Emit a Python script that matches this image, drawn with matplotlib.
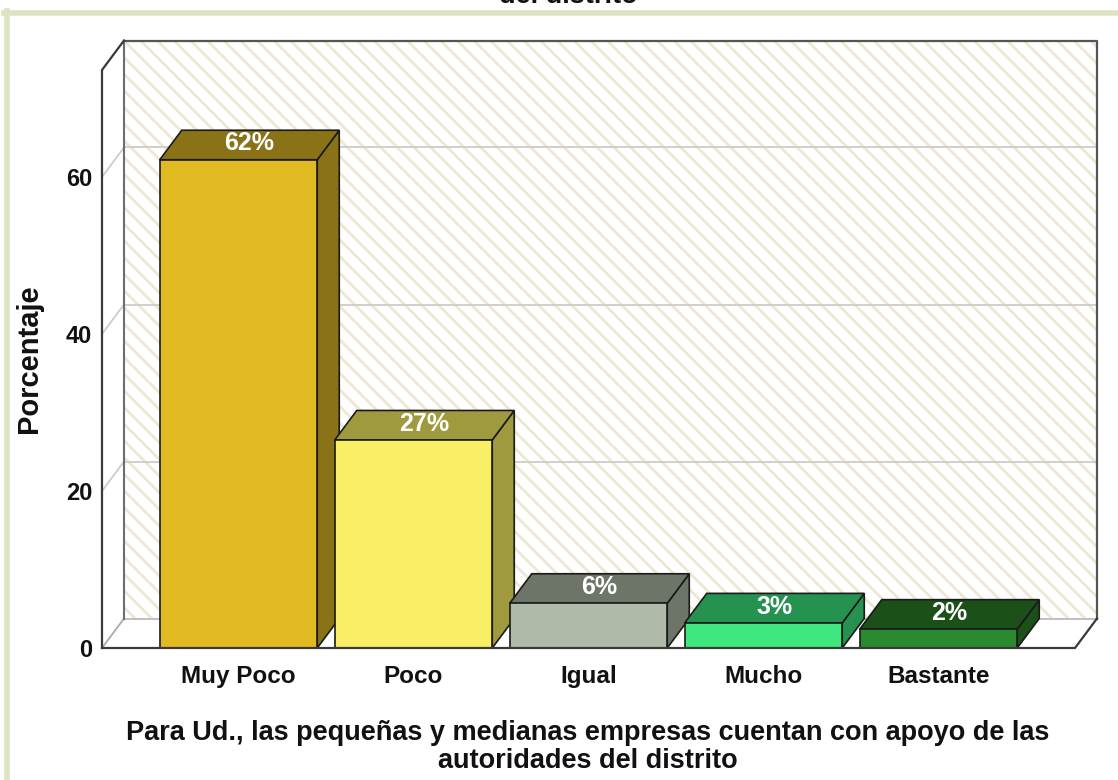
import matplotlib
matplotlib.use("Agg")
import matplotlib.pyplot as plt
from matplotlib.patches import Polygon
from matplotlib.lines import Line2D

plt.rcParams['font.family'] = ['Liberation Sans', 'DejaVu Sans']
plt.rcParams['hatch.linewidth'] = 2.0

# ---- data ----
categories = ["Muy Poco", "Poco", "Igual", "Mucho", "Bastante"]
values = [62.2, 26.5, 5.7, 3.2, 2.4]
value_labels = ["62%", "27%", "6%", "3%", "2%"]
front_colors = ["#E1BA21", "#F8EF67", "#B0BAA8", "#3EE87E", "#2A8A2E"]
dark_colors = ["#8A7316", "#A09A3E", "#6C7567", "#259250", "#1B5119"]
yticks = [0, 20, 40, 60]
ylabel = "Porcentaje"
xlabel = "Para Ud., las pequeñas y medianas empresas cuentan con apoyo de las\nautoridades del distrito"
title_tail = "del distrito"

W, H = 1118, 780
fig = plt.figure(figsize=(W / 100, H / 100), dpi=100)
fig.patch.set_facecolor("white")

# axes geometry (pixel based)
px_left, px_right, px_bottom, px_top = 102, 1100, 648, 38
cat_px = 175.0
unit_px = 7.85
xmin = -136.5 / cat_px
xmax_front = xmin + (1075 - 102) / cat_px
xmax_ax = xmin + (px_right - px_left) / cat_px
ymax_ax = (px_bottom - px_top) / unit_px
ddx = 22.0 / cat_px
ddy = 29.5 / unit_px
ytop_front = (648 - 70) / unit_px
ytop_back = ytop_front + ddy

ax = fig.add_axes([px_left / W, 1 - px_bottom / H, (px_right - px_left) / W, (px_bottom - px_top) / H])
ax.set_xlim(xmin, xmax_ax)
ax.set_ylim(0, ymax_ax)
for s in ax.spines.values():
    s.set_visible(False)
ax.patch.set_alpha(0)

# back wall with hatch
bx0, bx1 = xmin + ddx, xmax_front + ddx
wall = Polygon([(bx0, ddy), (bx1, ddy), (bx1, ytop_back), (bx0, ytop_back)],
               closed=True, facecolor="white", edgecolor="#EEE7D3", hatch="\\\\", lw=0, zorder=1)
ax.add_patch(wall)
# side wall (white)
side = Polygon([(xmin, 0), (bx0, ddy), (bx0, ytop_back), (xmin, ytop_front)], closed=True,
               facecolor="white", edgecolor="none", zorder=1)
ax.add_patch(side)
# gridlines
for g in yticks[1:]:
    ax.plot([bx0, bx1], [g + ddy, g + ddy], color="#CCCCCC", lw=1.3, zorder=2, solid_capstyle="butt")
    ax.plot([xmin, bx0], [g, g + ddy], color="#CCCCCC", lw=1.3, zorder=2)
# floor
floor = Polygon([(xmin, 0), (xmax_front, 0), (bx1, ddy), (bx0, ddy)], closed=True,
                facecolor="white", edgecolor="none", zorder=2)
ax.add_patch(floor)
ax.plot([bx0, bx1], [ddy, ddy], color="#BBBBBB", lw=1.3, zorder=2)
ax.plot([xmin, bx0], [0, ddy], color="#AAAAAA", lw=1.3, zorder=2)
# wall frame
ax.plot([bx0, bx0], [ddy, ytop_back], color="#6E6E6E", lw=1.5, zorder=2)
ax.plot([bx0, bx1, bx1], [ytop_back, ytop_back, ddy], color="#555555", lw=1.6, zorder=2)
ax.plot([xmin, xmin, bx0], [0, ytop_front, ytop_back], color="#3A3A3A", lw=1.6, zorder=6, clip_on=False)
ax.plot([xmin, xmax_front, bx1], [0, 0, ddy], color="#3A3A3A", lw=1.6, zorder=6, clip_on=False)

# bars
bw = 0.9
for i, (v, fc, dc, lab) in enumerate(zip(values, front_colors, dark_colors, value_labels)):
    z = 3 + i * 0.1
    xl, xr = i - bw / 2, i + bw / 2
    sidep = Polygon([(xr, 0), (xr + ddx, ddy), (xr + ddx, v + ddy), (xr, v)], closed=True,
                    facecolor=dc, edgecolor="#1A1A1A", lw=1.2, zorder=z, joinstyle="miter")
    ax.add_patch(sidep)
    topp = Polygon([(xl, v), (xr, v), (xr + ddx, v + ddy), (xl + ddx, v + ddy)], closed=True,
                   facecolor=dc, edgecolor="#1A1A1A", lw=1.2, zorder=z, joinstyle="miter")
    ax.add_patch(topp)
    ax.bar(i, v, width=bw, bottom=0, color=fc, edgecolor="#1A1A1A", lw=1.2, zorder=z + 0.01)
    ax.text(i + ddx / 2, v + ddy / 2 + 0.2, lab, color="white", fontsize=18, fontweight="bold",
            ha="center", va="center", zorder=z + 0.02)

# ticks
ax.set_yticks(yticks)
ax.set_yticklabels([str(t) for t in yticks], fontsize=17, fontweight="bold", color="#111111")
ax.set_xticks(range(len(categories)))
ax.set_xticklabels(categories, fontsize=17.5, fontweight="bold", color="#111111")
ax.tick_params(axis="y", length=0, pad=7)
ax.tick_params(axis="x", length=0, pad=12)

# axis titles
fig.text(29 / W, 1 - 359 / H, ylabel, rotation=90, fontsize=21, fontweight="bold",
         ha="center", va="center", color="#111111")
fig.text(588 / W, 1 - 747 / H, xlabel, fontsize=19.5, fontweight="bold", ha="center", va="center",
         multialignment="center", linespacing=1.07, color="#111111")
fig.text(568 / W, 1 - 3 / H, title_tail, fontsize=19.5, fontweight="bold", ha="center", va="baseline",
         color="#111111")

# light green frame
fig.add_artist(Line2D([4 / W, 1.0], [1 - 13 / H, 1 - 13 / H], color="#DAE4C2", lw=4.0, transform=fig.transFigure))
fig.add_artist(Line2D([7 / W, 7 / W], [1 - 11 / H, 0.0], color="#DAE4C2", lw=4.0, transform=fig.transFigure))

fig.savefig("out.png", dpi=100, facecolor="white")
